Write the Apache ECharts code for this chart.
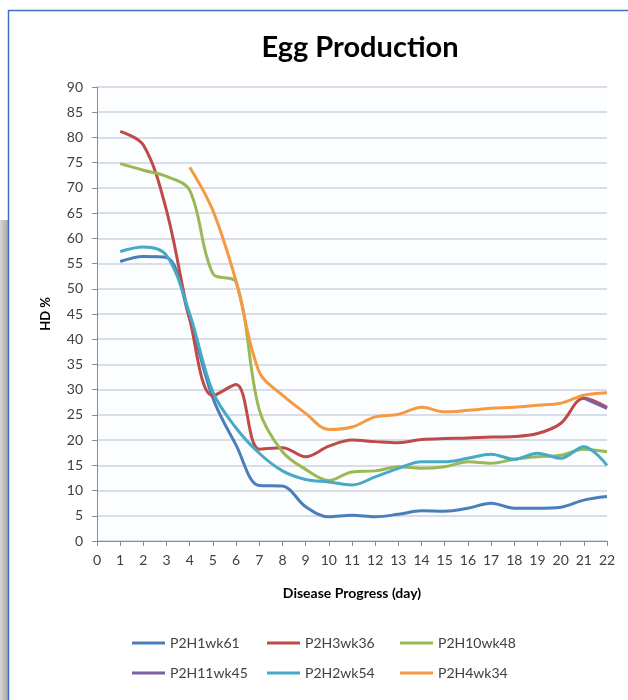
<!DOCTYPE html>
<html>
<head>
<meta charset="utf-8">
<script src="https://cdn.jsdelivr.net/npm/echarts@6/dist/echarts.min.js"></script>
<style>
html,body{margin:0;padding:0;background:#ffffff;}
#chart{width:628px;height:700px;}
</style>
</head>
<body>
<div id="chart"></div>
<script>
var days = [1,2,3,4,5,6,7,8,9,10,11,12,13,14,15,16,17,18,19,20,21,22];
var seriesNames = ['P2H1wk61','P2H3wk36','P2H10wk48','P2H11wk45','P2H2wk54','P2H4wk34'];
var P2H1wk61  = [55.4,56.4,56.2,44,28.3,19,11,10.9,6.8,4.8,5.1,4.8,5.3,6.0,5.9,6.5,7.5,6.5,6.5,6.7,8.1,8.8];
var P2H3wk36  = [81.2,78.5,65.5,44,28.8,31,18.2,18.5,16.7,18.8,20,19.7,19.5,20.1,20.3,20.4,20.6,20.7,21.3,23.3,28.3,26.5];
var P2H10wk48 = [74.8,73.5,72.3,69.5,53,51.3,26,17.7,14.2,12,13.7,13.9,14.7,14.4,14.7,15.7,15.4,16.2,16.7,17,18.2,17.7];
var P2H11wk45 = [null,null,null,null,null,null,null,null,null,null,null,null,null,null,null,null,null,null,null,null,28.3,26.3];
var P2H2wk54  = [57.4,58.3,56.6,45,29.5,22.4,17.4,13.9,12.2,11.7,11.1,12.7,14.4,15.7,15.7,16.4,17.2,16.2,17.4,16.4,18.7,15];
var P2H4wk34  = [null,null,null,74.1,65.5,51.5,33.5,28.9,25.3,22.1,22.6,24.6,25.1,26.5,25.6,25.9,26.3,26.5,26.9,27.3,28.9,29.4];
var yTicks = [0,5,10,15,20,25,30,35,40,45,50,55,60,65,70,75,80,85,90];
var xTicks = [0,1,2,3,4,5,6,7,8,9,10,11,12,13,14,15,16,17,18,19,20,21,22];

var allValues = [P2H1wk61,P2H3wk36,P2H10wk48,P2H11wk45,P2H2wk54,P2H4wk34];
var colors = ['#4a7ebb','#be4b48','#98b954','#7d60a0','#46aac5','#f59a43'];
var font = 'Lato, "Open Sans", sans-serif';

function pairs(vals){
  return days.map(function(d,i){ return [d, vals[i]]; });
}

var series = seriesNames.map(function(n,i){
  return {
    name:n, type:'line', data:pairs(allValues[i]),
    smooth:0.35, symbol:'none', showSymbol:false,
    lineStyle:{width:3,color:colors[i]}, itemStyle:{color:colors[i]},
    z: 2
  };
});

var legendPos = [[127,631],[262,631],[395,631],[127,661],[262,661],[395,661]];
var legends = seriesNames.map(function(n,i){
  return {
    data:[n], left:legendPos[i][0], top:legendPos[i][1],
    icon:'rect', itemWidth:33, itemHeight:3,
    textStyle:{fontFamily:font,fontSize:14,color:'#404040'}
  };
});

var chart = echarts.init(document.getElementById('chart'));
chart.setOption({
  backgroundColor:'#ffffff',
  animation:false,
  graphic:[
    {type:'rect', shape:{x:0,y:220,width:8,height:480}, style:{fill:new echarts.graphic.LinearGradient(0,0,1,0,[{offset:0,color:'#d8d8d8'},{offset:1,color:'#a8a8a8'}])}, z:-1},
    {type:'rect', shape:{x:8.5,y:10.5,width:650,height:720}, style:{fill:'none',stroke:'#3f6fc2',lineWidth:1.5}, z:-1}
  ],
  title:{
    text:'Egg Production', left:355, top:28, textAlign:'center',
    textStyle:{fontFamily:font,fontSize:29,fontWeight:'bold',color:'#000000'}
  },
  legend:legends,
  grid:{left:97,right:21,top:87,bottom:159,show:true,backgroundColor:'#fcfdfe',borderWidth:0},
  xAxis:{
    type:'value', min:0, max:22, interval:1,
    name:'Disease Progress (day)', nameLocation:'middle', nameGap:45,
    nameTextStyle:{fontFamily:font,fontSize:14,fontWeight:'bold',color:'#000000'},
    axisLine:{show:true,lineStyle:{color:'#8c8c8c',width:1}},
    axisTick:{show:true,length:5,lineStyle:{color:'#8c8c8c'}},
    axisLabel:{fontFamily:font,fontSize:14,color:'#404040',margin:12,
      formatter:function(v){ return xTicks.indexOf(v)>=0 ? String(v) : ''; }},
    splitLine:{show:false}
  },
  yAxis:{
    type:'value', min:0, max:90, interval:5,
    name:'HD %', nameLocation:'middle', nameGap:45, nameRotate:90,
    nameTextStyle:{fontFamily:font,fontSize:13,fontWeight:'bold',color:'#000000'},
    axisLine:{show:true,lineStyle:{color:'#8c8c8c',width:1}},
    axisTick:{show:true,length:5,lineStyle:{color:'#8c8c8c'}},
    axisLabel:{fontFamily:font,fontSize:14,color:'#404040',margin:14,
      formatter:function(v){ return yTicks.indexOf(v)>=0 ? String(v) : ''; }},
    splitLine:{show:true,lineStyle:{color:'#cdd2e0',width:1.5}}
  },
  series:series
});
</script>
</body>
</html>
